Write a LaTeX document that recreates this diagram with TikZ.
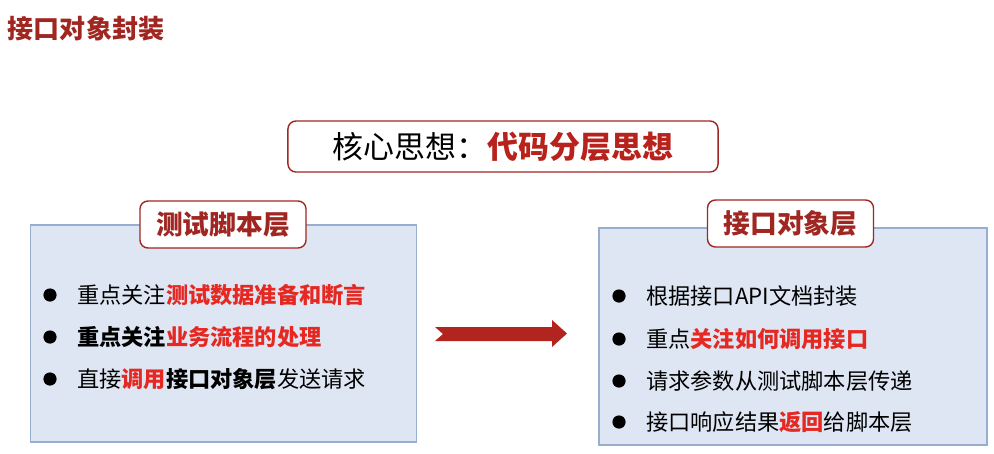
\documentclass[tikz,border=0pt]{standalone}
\usepackage{fontspec}
\setmainfont{Noto Sans CJK SC}
\usetikzlibrary{positioning}
\definecolor{deepred}{RGB}{160,38,33}
\definecolor{corered}{RGB}{184,34,28}
\definecolor{hotred}{RGB}{230,40,34}
\definecolor{panelblue}{RGB}{221,230,242}
\definecolor{paneledge}{RGB}{152,174,206}
\definecolor{arrowred}{RGB}{178,36,30}
\newcommand\hot[1]{\textbf{\textcolor{hotred}{#1}}}

\begin{document}
\begin{tikzpicture}[x=0.025cm,y=-0.025cm,
  panel/.style={draw=paneledge,fill=panelblue,line width=0.8pt,
    minimum width=9.65cm,minimum height=5.425cm},
  tagbox/.style={draw=deepred,fill=white,rounded corners=0.2cm,line width=1pt,
    minimum width=4.15cm,minimum height=1.175cm,text=deepred,
    font=\fontsize{19}{19}\selectfont\bfseries},
  dot/.style={circle,fill=black,inner sep=0,minimum size=0.33cm},
  item/.style={anchor=west,inner sep=0,font=\fontsize{15.8}{16}\selectfont},
  node distance=0.5cm]
  \useasboundingbox (0,0) rectangle (994,454);
  \node[anchor=west,text=deepred,font=\fontsize{18.5}{19}\selectfont\bfseries]
    (title) at (3,29) {接口对象封装};
  \node[draw=deepred,fill=white,rounded corners=0.2cm,line width=1pt,
    minimum width=10.75cm,minimum height=1.275cm,font=\fontsize{22}{22}\selectfont]
    (core) at (503,146.5) {核心思想：\textbf{\textcolor{corered}{代码分层思想}}};
  % left: test scripts
  \node[panel] (script) at (223.5,333.5) {};
  \node[tagbox] (scripttag) at (223,224.5) {测试脚本层};
  \foreach \y [count=\i] in {295,337,379}
    \node[dot] (sb\i) at (50,\y) {};
  \node[item,right=of sb1] (s1) {重点关注\hot{测试数据准备和断言}};
  \node[item,right=of sb2] (s2) {\textbf{重点关注}\hot{业务流程的处理}};
  \node[item,right=of sb3] (s3) {直接\hot{调用}\textbf{接口对象层}发送请求};
  % right: api objects
  \node[panel,minimum width=9.7cm] (api) at (793,336.5) {};
  \node[tagbox] (apitag) at (790.5,223.5) {接口对象层};
  \foreach \y [count=\i] in {296,339,381,422}
    \node[dot] (ab\i) at (619,\y) {};
  \node[item,right=of ab1] (a1) {根据接口API文档封装};
  \node[item,right=of ab2] (a2) {重点\hot{关注如何调用接口}};
  \node[item,right=of ab3] (a3) {请求参数从测试脚本层传递};
  \node[item,right=of ab4] (a4) {接口响应结果\hot{返回}给脚本层};
  % block arrow between the layers
  \fill[arrowred] (435,327) -- (552,327) -- (552,320) -- (567,333.5)
    -- (552,347) -- (552,341) -- (435,341) -- (443,334) -- cycle;
\end{tikzpicture}
\end{document}
